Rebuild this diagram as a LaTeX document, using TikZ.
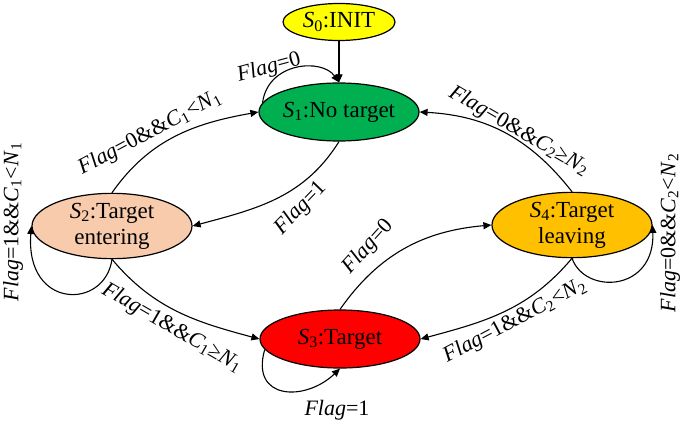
\documentclass[tikz,border=0pt]{standalone}
\usepackage{fontspec}
\setmainfont{Liberation Serif}
\usetikzlibrary{shapes.geometric,arrows.meta}
\definecolor{cSzero}{RGB}{255,255,0}
\definecolor{cSone}{RGB}{0,176,80}
\definecolor{cStwo}{RGB}{248,203,173}
\definecolor{cSthree}{RGB}{255,0,0}
\definecolor{cSfour}{RGB}{255,192,0}
\newcommand{\fl}{\textit{Flag}}
\begin{document}
\begin{tikzpicture}[x=1pt,y=1pt,
  st/.style={ellipse, draw, line width=1.2pt, minimum width=160pt, minimum height=60pt, inner sep=0pt, align=center, font=\fontsize{23}{26}\selectfont},
  edge/.style={line width=1.1pt, -{Triangle[length=8pt,width=7pt]}},
  lbl/.style={inner sep=0pt, font=\fontsize{22}{24}\selectfont}]
\useasboundingbox (0,0) rectangle (685,-423);
\node[st, fill=cSzero, minimum width=112pt, minimum height=37pt] (s0) at (339,-22) {\textit{S}\textsubscript{0}:INIT};
\node[st, fill=cSone, minimum height=58pt] (s1) at (339,-112) {\textit{S}\textsubscript{1}:No target};
\node[st, fill=cStwo] (s2) at (112,-226) {\textit{S}\textsubscript{2}:Target\\entering};
\node[st, fill=cSthree, minimum height=58pt] (s3) at (340,-339) {\textit{S}\textsubscript{3}:Target};
\node[st, fill=cSfour] (s4) at (572,-225) {\textit{S}\textsubscript{4}:Target\\leaving};

\draw[edge] (s0) -- (s1);
\draw[edge] (s1.173) .. controls (268,-62) and (322,-58) .. (s1.north);
\draw[edge] (s2.north) to[out=55, in=190] (s1.west);
\draw[edge] (s1.south) to[out=-122, in=15] (s2.east);
\draw[edge] (s4.north) to[out=128, in=-3] (s1.east);
\draw[edge] (s2.south) .. controls (105,-310) and (25,-310) .. (s2.west);
\draw[edge] (s2.south) to[out=-50, in=165] (s3.west);
\draw[edge] (s3.188) .. controls (250,-400) and (305,-402) .. (s3.south);
\draw[edge] (s3.north) to[out=55, in=185] (s4.west);
\draw[edge] (s4.south) to[out=-130, in=15] (s3.east);
\draw[edge] (s4.south) .. controls (585,-295) and (655,-292) .. (s4.east);

\node[lbl, rotate=15] (l1) at (269,-68) {\fl=0};
\node[lbl, rotate=28] (l2) at (150,-133) {\fl=0\&\&\textit{C}\textsubscript{1}<\textit{N}\textsubscript{1}};
\node[lbl, rotate=46] (l3) at (301,-208) {\fl=1};
\node[lbl, rotate=-30] (l4) at (519,-131) {\fl=0\&\&\textit{C}\textsubscript{2}≥\textit{N}\textsubscript{2}};
\node[lbl, rotate=90] (l5) at (13,-222) {\fl=1\&\&\textit{C}\textsubscript{1}<\textit{N}\textsubscript{1}};
\node[lbl, rotate=-30] (l6) at (172,-328) {\fl=1\&\&\textit{C}\textsubscript{1}≥\textit{N}\textsubscript{1}};
\node[lbl, rotate=48] (l7) at (368,-247) {\fl=0};
\node[lbl, rotate=28] (l8) at (515,-321) {\fl=1\&\&\textit{C}\textsubscript{2}<\textit{N}\textsubscript{2}};
\node[lbl] (l9) at (337,-410) {\fl=1};
\node[lbl, rotate=90] (l10) at (670,-233) {\fl=0\&\&\textit{C}\textsubscript{2}<\textit{N}\textsubscript{2}};
\end{tikzpicture}
\end{document}
